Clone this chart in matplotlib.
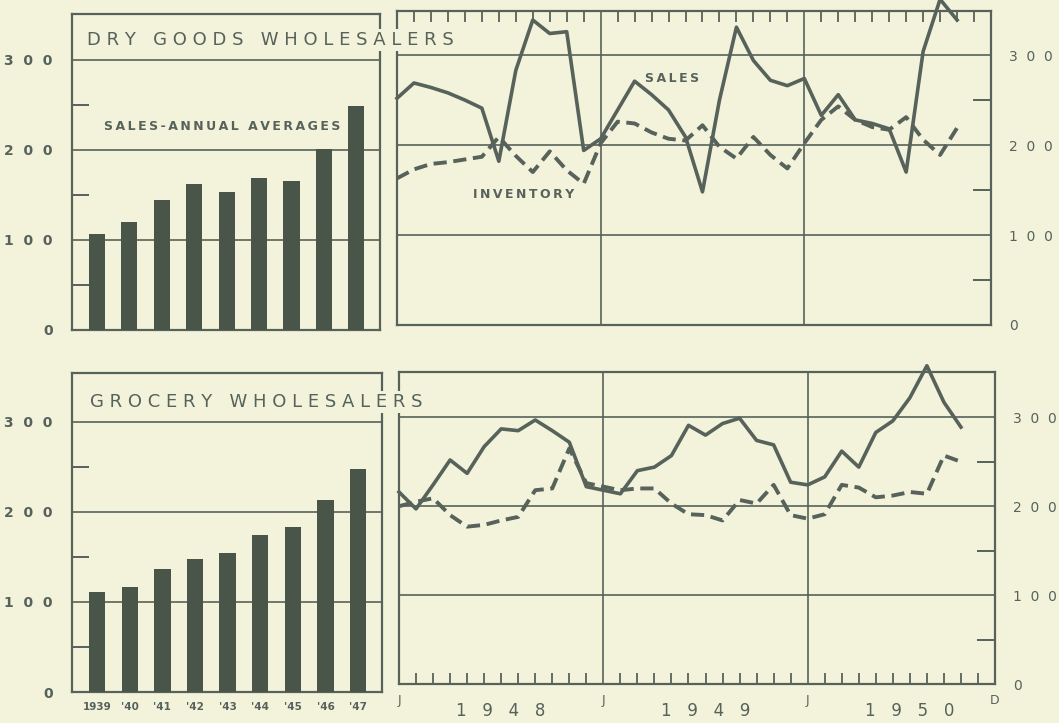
import matplotlib
matplotlib.use("Agg")
import matplotlib.pyplot as plt
import numpy as np

# ── データ ──────────────────────────────────────────────
bar_years = ['1939', "'40", "'41", "'42", "'43", "'44", "'45", "'46", "'47"]
dry_annual = [107, 120, 144, 162, 153, 169, 166, 201, 249]
groc_annual = [111, 117, 137, 148, 154, 174, 183, 213, 247]

# 月次 1948年1月 〜 1950年10月 (34か月)
dry_sales = [252, 269, 264, 258, 250, 241, 182, 283, 339, 324, 326, 194,
             207, 239, 271, 256, 239, 209, 148, 250, 331, 294, 272, 266,
             274, 233, 256, 228, 224, 218, 170, 304, 362, 339]
dry_inv = [163, 173, 179, 181, 184, 187, 209, 188, 170, 193, 172, 157,
           202, 226, 224, 214, 207, 205, 222, 198, 185, 209, 189, 174,
           202, 228, 243, 228, 220, 217, 231, 206, 189, 219]
groc_sales = [216, 197, 224, 252, 237, 267, 287, 285, 297, 285, 272, 222,
              218, 214, 240, 244, 257, 291, 280, 293, 299, 274, 269, 227,
              224, 233, 262, 244, 283, 296, 322, 358, 317, 289]
groc_inv = [200, 205, 209, 190, 177, 179, 184, 188, 218, 220, 265, 226,
            222, 218, 220, 220, 203, 191, 190, 184, 207, 203, 224, 190,
            186, 191, 224, 221, 210, 212, 216, 214, 257, 250]

y_major = [0, 100, 200, 300]
y_minor = [50, 150, 250]
month_labels = {0: 'J', 12: 'J', 24: 'J', 35: 'D'}
year_labels = {6: '1948', 18: '1949', 30: '1950'}

# ── スタイル ────────────────────────────────────────────
BG = '#f3f3dc'
INK = '#56625a'
BAR = '#4a5549'
W, H = 1059, 723
plt.rcParams['font.family'] = ['DejaVu Sans']


def sp(s, sep=' '):
    """文字間を空ける (旧式レタリング風)"""
    return sep.join(s)


def box(l, t, r, b):
    return [l / W, 1 - b / H, (r - l) / W, (b - t) / H]


fig = plt.figure(figsize=(W / 100, H / 100), dpi=100, facecolor=BG)


def style_frame(ax):
    for s in ax.spines.values():
        s.set_color(INK)
        s.set_linewidth(1.6)
    for v in (100, 200, 300):
        ax.axhline(v, color=INK, lw=1.2, zorder=1)


def bar_panel(rect, vals, ytop, xlabels):
    ax = fig.add_axes(rect, facecolor=BG)
    x = np.arange(len(vals))
    ax.bar(x, vals, width=0.5, color=BAR, zorder=3)
    ax.set_xlim(-0.77, 8.73)
    ax.set_ylim(0, ytop)
    style_frame(ax)
    ax.set_yticks(y_major, labels=[sp(str(v), '  ') for v in y_major])
    ax.set_yticks(y_minor, minor=True)
    ax.tick_params(axis='y', which='major', length=0, pad=14,
                   labelsize=10, labelcolor=INK)
    for lab in ax.get_yticklabels():
        lab.set_fontweight('bold')
    ax.tick_params(axis='y', which='minor', direction='in', length=12,
                   width=1.4, color=INK)
    if xlabels:
        ax.set_xticks(x, labels=bar_years)
        ax.tick_params(axis='x', length=0, pad=7, labelsize=7.5,
                       labelcolor=INK)
        for lab in ax.get_xticklabels():
            lab.set_fontweight('bold')
    else:
        ax.set_xticks([])
    return ax


def line_panel(rect, sales, inv, ytop, bottom_axis):
    ax = fig.add_axes(rect, facecolor=BG)
    m = np.arange(len(sales))
    ax.set_xlim(0, 35)
    ax.set_ylim(0, ytop)
    style_frame(ax)
    for v in (12, 24):
        ax.axvline(v, color=INK, lw=1.2, zorder=1)
    ax.plot(m, sales, color=INK, lw=2.6, clip_on=False, zorder=4)
    ax.plot(m, inv, color=INK, lw=2.8, ls=(0, (3.4, 1.7)), clip_on=False,
            zorder=4)
    ax.yaxis.tick_right()
    ax.set_yticks(y_major, labels=[sp(str(v), '  ') for v in y_major])
    ax.set_yticks(y_minor, minor=True)
    ax.tick_params(axis='y', which='major', length=0, pad=13,
                   labelsize=10, labelcolor=INK)
    ax.tick_params(axis='y', which='minor', direction='in', length=13,
                   width=1.4, color=INK, right=True, left=False)
    ticks = [v for v in range(1, 35) if v not in (12, 24)]
    if bottom_axis:
        ax.set_xticks(list(month_labels), labels=list(month_labels.values()))
        ax.set_xticks(ticks, minor=True)
        ax.tick_params(axis='x', which='major', length=0, pad=7,
                       labelsize=9, labelcolor=INK)
        ax.tick_params(axis='x', which='minor', direction='in', length=8,
                       width=1.3, color=INK, bottom=True, top=False)
        for xm, yr in year_labels.items():
            ax.text(xm, -0.085, sp(yr, '   '), transform=ax.get_xaxis_transform(),
                    ha='center', va='center', fontsize=12, color=INK)
    else:
        ax.set_xticks([])
        ax.set_xticks(ticks, minor=True)
        ax.tick_params(axis='x', which='minor', direction='in', length=8,
                       width=1.3, color=INK, top=True, bottom=False)
    return ax


# ── 上段: 織物卸 ────────────────────────────────────────
bar_panel(box(72, 14, 380, 330), dry_annual, 351, False)
line_panel(box(397, 11, 991, 325), dry_sales, dry_inv, 349, False)

# ── 下段: 食料品卸 ──────────────────────────────────────
bar_panel(box(72, 373, 382, 692), groc_annual, 354, True)
line_panel(box(399, 372, 995, 684), groc_sales, groc_inv, 351, True)

# ── テキスト ────────────────────────────────────────────
title_kw = dict(ha='left', va='center', fontsize=13, color=INK, zorder=10,
                bbox=dict(facecolor=BG, edgecolor='none', pad=1.5))
fig.text(87 / W, 1 - 40 / H,
         '   '.join(sp(w) for w in 'DRY GOODS WHOLESALERS'.split()),
         **title_kw)
fig.text(90 / W, 1 - 402 / H,
         '   '.join(sp(w) for w in 'GROCERY WHOLESALERS'.split()),
         **title_kw)
fig.text(222 / W, 1 - 127 / H, sp('SALES-ANNUAL AVERAGES', '\u2009'),
         ha='center', va='center', fontsize=9, fontweight='bold', color=INK,
         zorder=10)
fig.text(672 / W, 1 - 78 / H, sp('SALES', '\u2009'), ha='center', va='center',
         fontsize=9, fontweight='bold', color=INK, zorder=10)
fig.text(524 / W, 1 - 194 / H, sp('INVENTORY', '\u2009'), ha='center',
         va='center', fontsize=9, fontweight='bold', color=INK, zorder=10)

plt.savefig('out.png', dpi=100, facecolor=BG)
plt.close()
